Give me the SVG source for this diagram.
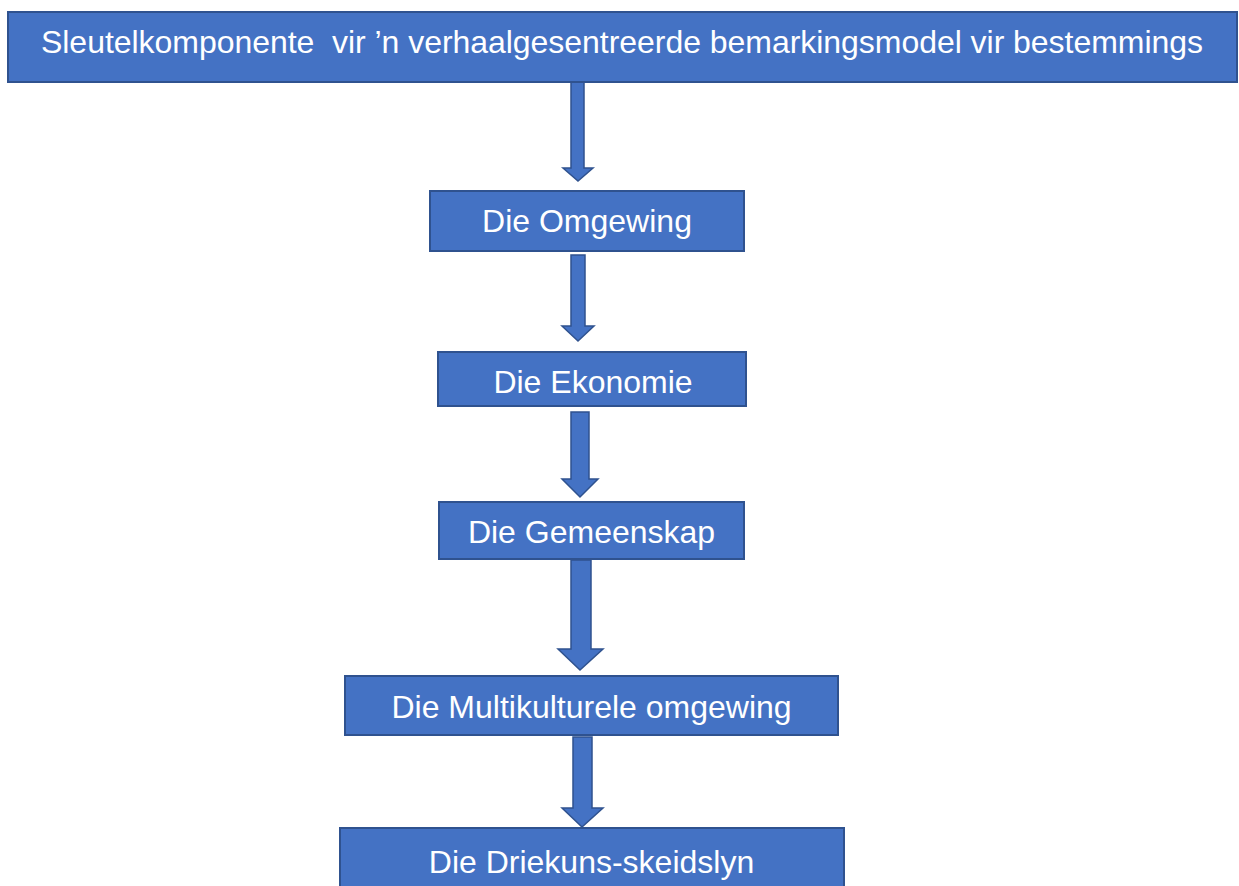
<svg xmlns="http://www.w3.org/2000/svg" width="1239" height="886" viewBox="0 0 1239 886">
<style>
.box{fill:#4472C4;stroke:#2F528F;stroke-width:2}
.lbl{fill:#FFFFFF;font-family:"Liberation Sans",Arial,sans-serif;font-size:32px;text-anchor:middle;white-space:pre}
.arr{fill:#4472C4;stroke:#2F528F;stroke-width:1.5;stroke-linejoin:miter}
</style>
<rect width="1239" height="886" fill="#FFFFFF"/>
<g id="connectors">
<path class="arr" d="M571,82 H584 V168 H593 L578,181 L563,168 H571 Z"/>
<path class="arr" d="M571,255 H585 V326 H594 L578,341 L562,326 H571 Z"/>
<path class="arr" d="M571,412 H589 V479 H598 L580,497 L562,479 H571 Z"/>
<path class="arr" d="M571,560 H591 V649 H603 L580,670 L558,649 H571 Z"/>
<path class="arr" d="M573,737 H592 V808 H603 L582,827 L562,808 H573 Z"/>
</g>
<g id="node-title">
<rect class="box" x="8" y="12" width="1229" height="70"/>
<text class="lbl" x="622" y="53" textLength="1162" xml:space="preserve">Sleutelkomponente  vir ’n verhaalgesentreerde bemarkingsmodel vir bestemmings</text>
</g>
<g id="node-omgewing">
<rect class="box" x="430" y="191" width="314" height="60"/>
<text class="lbl" x="587" y="232">Die Omgewing</text>
</g>
<g id="node-ekonomie">
<rect class="box" x="438" y="352" width="308" height="54"/>
<text class="lbl" x="593" y="393">Die Ekonomie</text>
</g>
<g id="node-gemeenskap">
<rect class="box" x="439" y="502" width="305" height="57"/>
<text class="lbl" x="591.5" y="543">Die Gemeenskap</text>
</g>
<g id="node-multikulturele">
<rect class="box" x="345" y="676" width="493" height="59"/>
<text class="lbl" x="591.5" y="718">Die Multikulturele omgewing</text>
</g>
<g id="node-driekuns">
<rect class="box" x="340" y="828" width="504" height="70"/>
<text class="lbl" x="591.5" y="873">Die Driekuns-skeidslyn</text>
</g>
</svg>
